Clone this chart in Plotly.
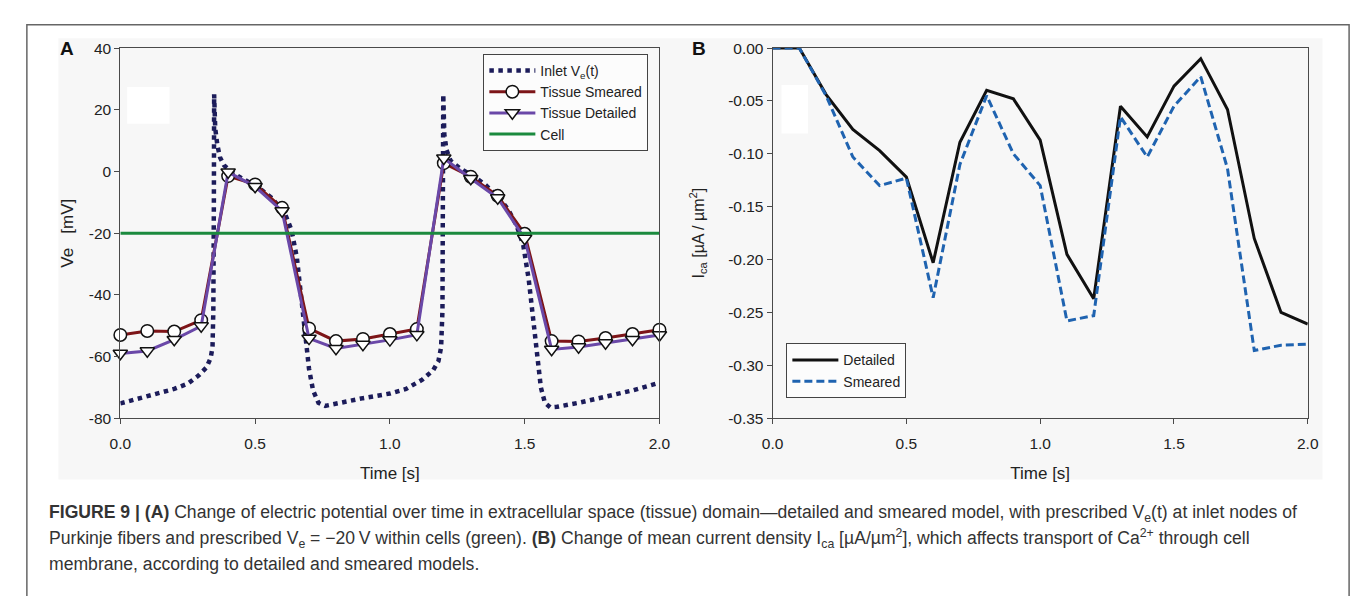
import plotly.graph_objects as go

W, H = 1358, 596

# ---------------- data ----------------
t_tissue = [0.0, 0.1, 0.2, 0.3, 0.4, 0.5, 0.6, 0.7, 0.8, 0.9, 1.0,
            1.1, 1.2, 1.3, 1.4, 1.5, 1.6, 1.7, 1.8, 1.9, 2.0]
tissue_smeared = [-53.0, -51.7, -51.9, -48.2, -1.5, -4.2, -11.8, -50.9, -55.0, -54.3, -52.7,
                  -51.1, 2.7, -1.7, -7.9, -20.2, -55.0, -55.1, -54.0, -52.7, -51.3]
tissue_detailed = [-59.0, -58.2, -54.5, -50.1, -0.2, -4.9, -12.8, -54.1, -57.4, -56.1, -54.6,
                   -52.9, 4.3, -2.3, -8.6, -21.7, -57.7, -56.9, -55.6, -54.5, -53.0]

t_inlet = [0.00, 0.05, 0.10, 0.15, 0.20, 0.25, 0.29, 0.32, 0.335, 0.342, 0.345, 0.347, 0.348,
           0.352, 0.36, 0.37, 0.385, 0.41, 0.45, 0.51, 0.56, 0.61, 0.635, 0.655, 0.67, 0.685,
           0.70, 0.715, 0.735, 0.76, 0.80, 0.90, 1.00, 1.06, 1.12, 1.16, 1.18, 1.19, 1.195,
           1.197, 1.198, 1.202, 1.21, 1.225, 1.26, 1.30, 1.35, 1.40, 1.44, 1.47, 1.495, 1.515,
           1.53, 1.545, 1.56, 1.575, 1.595, 1.62, 1.70, 1.80, 1.90, 2.00]
v_inlet = [-75.2, -74.0, -73.0, -71.8, -70.5, -68.8, -66.2, -63.5, -60.5, -57.0, -45.0, -10.0, 25.0,
           14.0, 8.5, 4.5, 2.0, 0.0, -2.2, -5.0, -8.5, -13.5, -19.0, -28.0, -40.0, -52.0,
           -64.0, -71.0, -75.0, -76.0, -75.2, -73.5, -72.0, -70.5, -67.5, -64.5, -61.5, -57.0, -45.0,
           -10.0, 25.0, 12.0, 7.0, 3.5, 1.0, -1.0, -4.0, -8.0, -12.5, -17.5, -24.0, -35.0,
           -47.0, -60.0, -70.0, -75.0, -76.5, -76.3, -75.0, -73.0, -71.0, -68.5]

cell_t = [0.0, 2.0]
cell_v = [-20.0, -20.0]

t_ica = [0.0, 0.1, 0.2, 0.3, 0.4, 0.5, 0.6, 0.7, 0.8, 0.9, 1.0,
         1.1, 1.2, 1.3, 1.4, 1.5, 1.6, 1.7, 1.8, 1.9, 2.0]
ica_detailed = [0.0, 0.0, -0.044, -0.077, -0.097, -0.122, -0.203, -0.089, -0.040, -0.048, -0.087,
                -0.195, -0.237, -0.055, -0.084, -0.036, -0.010, -0.058, -0.180, -0.250, -0.261]
ica_smeared = [0.0, 0.0, -0.045, -0.103, -0.130, -0.123, -0.236, -0.110, -0.045, -0.100, -0.130,
               -0.258, -0.253, -0.065, -0.103, -0.055, -0.027, -0.114, -0.286, -0.281, -0.280]

a_x_ticks = [0.0, 0.5, 1.0, 1.5, 2.0]
a_x_labels = ["0.0", "0.5", "1.0", "1.5", "2.0"]
a_y_ticks = [-80, -60, -40, -20, 0, 20, 40]
a_y_labels = ["-80", "-60", "-40", "-20", "0", "20", "40"]
b_y_ticks = [-0.35, -0.30, -0.25, -0.20, -0.15, -0.10, -0.05, 0.0]
b_y_labels = ["-0.35", "-0.30", "-0.25", "-0.20", "-0.15", "-0.10", "-0.05", "0.00"]

caption_lines = [
    "<b>FIGURE 9 | (A)</b> Change of electric potential over time in extracellular space (tissue) domain\u2014detailed and smeared model, with prescribed V<sub>e</sub>(t) at inlet nodes of",
    "Purkinje fibers and prescribed V<sub>e</sub> = \u221220\u2009V within cells (green). <b>(B)</b> Change of mean current density I<sub>ca</sub> [\u00b5A/\u00b5m<sup>2</sup>], which affects transport of Ca<sup>2+</sup> through cell",
    "membrane, according to detailed and smeared models.",
]

# ---------------- helpers ----------------
def px(x):
    return x / W

def py(y):
    return 1 - y / H

FONT = "Liberation Sans, Arial, Helvetica, sans-serif"
TXT = "#222222"
AX = "#4a4a4a"
TICK = 15.5

fig = go.Figure()

# Panel A traces
fig.add_trace(go.Scatter(x=t_inlet, y=v_inlet, mode="lines", name="Inlet V<sub>e</sub>(t)",
                         line=dict(color="#1c1c5a", width=4.5, dash="dot"),
                         xaxis="x", yaxis="y", legend="legend"))
fig.add_trace(go.Scatter(x=t_tissue, y=tissue_smeared, mode="lines+markers", name="Tissue Smeared",
                         line=dict(color="#7d1518", width=3),
                         marker=dict(symbol="circle", size=12.5, color="white",
                                     line=dict(color="#111111", width=1.5)),
                         cliponaxis=False, xaxis="x", yaxis="y", legend="legend"))
fig.add_trace(go.Scatter(x=t_tissue, y=tissue_detailed, mode="lines+markers", name="Tissue Detailed",
                         line=dict(color="#6a48a8", width=3),
                         marker=dict(symbol="triangle-down", size=12.5, color="white",
                                     line=dict(color="#111111", width=1.5)),
                         cliponaxis=False, xaxis="x", yaxis="y", legend="legend"))
fig.add_trace(go.Scatter(x=cell_t, y=cell_v, mode="lines", name="Cell",
                         line=dict(color="#1b8a3e", width=3),
                         xaxis="x", yaxis="y", legend="legend"))

# Panel B traces
fig.add_trace(go.Scatter(x=t_ica, y=ica_detailed, mode="lines", name="Detailed",
                         line=dict(color="#111111", width=3),
                         cliponaxis=False, xaxis="x2", yaxis="y2", legend="legend2"))
fig.add_trace(go.Scatter(x=t_ica, y=ica_smeared, mode="lines", name="Smeared",
                         line=dict(color="#1f63b0", width=3, dash="8px,4px"),
                         cliponaxis=False, xaxis="x2", yaxis="y2", legend="legend2"))

axis_common = dict(showline=True, linecolor=AX, linewidth=1, mirror=True,
                   ticks="outside", ticklen=5, tickcolor=AX, tickwidth=1,
                   showgrid=False, zeroline=False,
                   tickfont=dict(family=FONT, size=TICK, color=TXT))

fig.update_layout(
    width=W, height=H, autosize=False,
    margin=dict(l=0, r=0, t=0, b=0),
    paper_bgcolor="white", plot_bgcolor="rgba(0,0,0,0)",
    font=dict(family=FONT, color=TXT),
    xaxis=dict(domain=[px(103), px(651)], range=[0, 2], tickvals=a_x_ticks, ticktext=a_x_labels,
               anchor="y", ticklabelstandoff=6,
               title=dict(text="Time [s]", font=dict(family=FONT, size=17, color=TXT), standoff=16),
               **axis_common),
    yaxis=dict(domain=[py(413), py(32)], range=[-80, 40], tickvals=a_y_ticks, ticktext=a_y_labels,
               anchor="x",
               title=dict(text="Ve\u00a0\u00a0\u00a0[mV]", font=dict(family=FONT, size=17, color=TXT), standoff=10),
               **axis_common),
    xaxis2=dict(domain=[px(766), px(1310)], range=[0, 2], tickvals=a_x_ticks, ticktext=a_x_labels,
                anchor="y2", ticklabelstandoff=6,
                title=dict(text="Time [s]", font=dict(family=FONT, size=17, color=TXT), standoff=16),
                **axis_common),
    yaxis2=dict(domain=[py(413), py(32)], range=[-0.35, 0], tickvals=b_y_ticks, ticktext=b_y_labels,
                anchor="x2",
                title=dict(text="I<sub>ca</sub> [\u00b5A / \u00b5m<sup>2</sup>]",
                           font=dict(family=FONT, size=16, color=TXT), standoff=19),
                **axis_common),
    legend=dict(x=px(472), y=py(38), xanchor="left", yanchor="top",
                bgcolor="#fcfcfc", bordercolor="#444444", borderwidth=1,
                font=dict(family=FONT, size=14, color=TXT), tracegroupgap=0, itemwidth=46,
                itemclick=False, itemdoubleclick=False),
    legend2=dict(x=px(780), y=py(336), xanchor="left", yanchor="top",
                 bgcolor="#fcfcfc", bordercolor="#444444", borderwidth=1,
                 font=dict(family=FONT, size=14, color=TXT), tracegroupgap=0, itemwidth=46,
                 itemclick=False, itemdoubleclick=False),
    showlegend=True,
)

shapes = [
    # grey panel background
    dict(type="rect", xref="paper", yref="paper", x0=px(40), x1=px(1325), y0=py(476), y1=py(22),
         fillcolor="#f7f7f7", line=dict(width=0), layer="below"),
    # white scan artefacts
    dict(type="rect", xref="paper", yref="paper", x0=px(110), x1=px(153), y0=py(110), y1=py(72),
         fillcolor="white", line=dict(width=0), layer="below"),
    dict(type="rect", xref="paper", yref="paper", x0=px(775), x1=px(802), y0=py(120), y1=py(70),
         fillcolor="white", line=dict(width=0), layer="below"),
    # outer frame (open at the bottom)
    dict(type="path", xref="paper", yref="paper",
         path=f"M {px(8)},{py(H)} L {px(8)},{py(8)} L {px(1352)},{py(8)} L {px(1352)},{py(H)}",
         line=dict(color="#666666", width=1.5), layer="above"),
]
fig.update_layout(shapes=shapes)

annotations = [
    dict(text="<b>A</b>", x=px(49), y=py(32), xref="paper", yref="paper", showarrow=False,
         xanchor="center", yanchor="middle",
         font=dict(family=FONT, size=19, color="#111111")),
    dict(text="<b>B</b>", x=px(691), y=py(32), xref="paper", yref="paper", showarrow=False,
         xanchor="center", yanchor="middle",
         font=dict(family=FONT, size=19, color="#111111")),
]
for i, line in enumerate(caption_lines):
    annotations.append(dict(text=line, x=px(28), y=py(511 + 26 * i), xref="paper", yref="paper",
                            xanchor="left", yanchor="middle", showarrow=False,
                            font=dict(family=FONT, size=17.6, color="#333333")))
fig.update_layout(annotations=annotations)

fig.write_html("out.html")
